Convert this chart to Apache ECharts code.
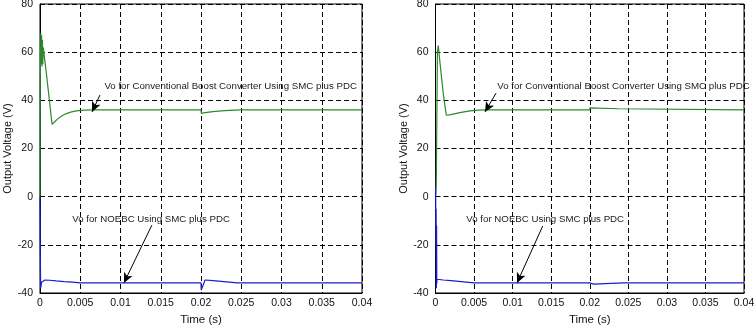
<!DOCTYPE html>
<html>
<head>
<meta charset="utf-8">
<script src="https://cdn.jsdelivr.net/npm/echarts@6/dist/echarts.min.js"></script>
<style>html,body{margin:0;padding:0;background:#fff}#c{width:756px;height:329px}</style>
</head>
<body>
<div id="c"></div>
<script>
// ---- Data ----
const xTicks = [0, 0.005, 0.01, 0.015, 0.02, 0.025, 0.03, 0.035, 0.04];
const yTicks = [-40, -20, 0, 20, 40, 60, 80];

// Left panel: conventional boost converter (green)
const leftGreenT = [0, 0.00004, 0.0001, 0.00015, 0.0002, 0.00025, 0.0003, 0.00035, 0.0004, 0.0008, 0.0012, 0.0015, 0.0018, 0.0022, 0.0027, 0.0032, 0.0038, 0.0045, 0.0055, 0.0065, 0.02, 0.02005, 0.0205, 0.0215, 0.0225, 0.0235, 0.025, 0.04];
const leftGreenV = [0, 50, 68, 55, 67, 54, 65, 55, 62, 51, 39, 30, 31, 32.3, 33.5, 34.4, 35.1, 35.6, 35.9, 36, 36, 34.6, 34.9, 35.3, 35.6, 35.8, 36, 36];
// Left panel: NOEBC (blue)
const leftBlueT = [0, 0.00003, 0.00008, 0.0002, 0.0006, 0.0012, 0.002, 0.003, 0.004, 0.005, 0.02, 0.02003, 0.0205, 0.0215, 0.0225, 0.0235, 0.0245, 0.04];
const leftBlueV = [0, -20, -38, -35.5, -34.6, -34.7, -35.0, -35.3, -35.5, -35.8, -35.8, -38.8, -34.6, -34.9, -35.2, -35.5, -35.8, -35.8];

// Right panel: conventional boost converter (green)
const rightGreenT = [0, 0.0001, 0.00025, 0.00036, 0.0006, 0.001, 0.0014, 0.002, 0.0027, 0.0035, 0.0045, 0.0055, 0.0065, 0.02, 0.02002, 0.0237, 0.0238, 0.04];
const rightGreenV = [0, 5, 60, 62.7, 55, 43, 33.8, 34.1, 34.6, 35.1, 35.6, 35.9, 36, 36, 36.9, 36.5, 36, 36];
// Right panel: NOEBC (blue)
const rightBlueT = [0, 0.00002, 0.00005, 0.00008, 0.00011, 0.00014, 0.00017, 0.0002, 0.0004, 0.001, 0.002, 0.003, 0.004, 0.005, 0.02, 0.02002, 0.0205, 0.022, 0.0235, 0.0245, 0.04];
const rightBlueV = [0, 4.5, -20, -5, -38, -12, -36, -34.3, -34.4, -34.6, -34.9, -35.2, -35.5, -35.8, -35.8, -36.5, -36.3, -36.1, -35.9, -35.8, -35.8];

// Annotations [textT, textV, tailT, tailV, headT, headV]
const leftGreenNote = [0.0080, 45.9, 0.00745, 42.2, 0.00646, 35.2];
const leftBlueNote = [0.0040, -9.3, 0.0139, -11.8, 0.01043, -35.8];
const rightGreenNote = [0.0080, 45.9, 0.00785, 43.0, 0.00642, 35.2];
const rightBlueNote = [0.0040, -9.3, 0.0139, -12.2, 0.01057, -35.8];
const greenLabel = 'Vo for Conventional Boost Converter Using SMC plus PDC';
const blueLabel = 'Vo for NOEBC Using SMC plus PDC';

// ---- Chart ----
const FONT = '"Liberation Sans", Arial, sans-serif';
const GREEN = '#2b8a2b';
const BLUE = '#1c1cd0';
const zip = (a, b) => a.map((t, i) => [t, b[i]]);

function xAxis(idx) {
  return {
    type: 'value', gridIndex: idx, min: xTicks[0], max: xTicks[xTicks.length - 1], interval: 0.005,
    name: 'Time (s)', nameLocation: 'middle', nameGap: 20,
    nameTextStyle: {fontFamily: FONT, fontSize: 11.5, color: '#111'},
    axisLine: {show: true, onZero: false, lineStyle: {color: '#000', width: 1}},
    axisTick: {show: false},
    axisLabel: {fontFamily: FONT, fontSize: 10.5, color: '#111', margin: 5,
      formatter: v => String(+v.toFixed(3))},
    splitLine: {show: true, lineStyle: {color: '#000', type: [5, 3], width: 1}}
  };
}
function yAxis(idx) {
  return {
    type: 'value', gridIndex: idx, min: yTicks[0], max: yTicks[yTicks.length - 1], interval: 20,
    name: 'Output Voltage (V)', nameLocation: 'middle', nameGap: 25, nameRotate: 90,
    nameTextStyle: {fontFamily: FONT, fontSize: 11, color: '#111'},
    axisLine: {show: true, onZero: false, lineStyle: {color: '#000', width: 1}},
    axisTick: {show: false},
    axisLabel: {fontFamily: FONT, fontSize: 10.5, color: '#111', margin: 7},
    splitLine: {show: true, lineStyle: {color: '#000', type: [5, 3], width: 1}}
  };
}
function note(n, text) {
  return {
    markLine: {
      silent: true, animation: false,
      symbol: ['none', 'arrow'], symbolSize: [7, 10],
      lineStyle: {color: '#000', width: 1, type: 'solid'},
      label: {show: false},
      data: [[{coord: [n[2], n[3]]}, {coord: [n[4], n[5]]}]]
    },
    markPoint: {
      silent: true, animation: false,
      symbol: 'circle', symbolSize: 0,
      label: {show: true, position: 'right', distance: 0, formatter: text,
        fontFamily: FONT, fontSize: 9.7, color: '#222'},
      data: [{coord: [n[0], n[1]]}]
    }
  };
}
function line(idx, t, v, color, n, text) {
  return Object.assign({
    type: 'line', xAxisIndex: idx, yAxisIndex: idx, data: zip(t, v),
    showSymbol: false, symbol: 'none', lineStyle: {color: color, width: 1.2},
    itemStyle: {color: color}, animation: false
  }, note(n, text));
}

const chart = echarts.init(document.getElementById('c'), null, {renderer: 'canvas'});
chart.setOption({
  animation: false,
  backgroundColor: '#fff',
  grid: [
    {left: 40, top: 4, right: 394, bottom: 36, show: true, borderColor: '#000', borderWidth: 1,
     backgroundColor: 'transparent', containLabel: false, outerBoundsMode: 'none'},
    {left: 435.5, top: 4, right: 12, bottom: 36, show: true, borderColor: '#000', borderWidth: 1,
     backgroundColor: 'transparent', containLabel: false, outerBoundsMode: 'none'}
  ],
  xAxis: [xAxis(0), xAxis(1)],
  yAxis: [yAxis(0), yAxis(1)],
  series: [
    line(0, leftGreenT, leftGreenV, GREEN, leftGreenNote, greenLabel),
    line(0, leftBlueT, leftBlueV, BLUE, leftBlueNote, blueLabel),
    line(1, rightGreenT, rightGreenV, GREEN, rightGreenNote, greenLabel),
    line(1, rightBlueT, rightBlueV, BLUE, rightBlueNote, blueLabel)
  ]
});
</script>
</body>
</html>
